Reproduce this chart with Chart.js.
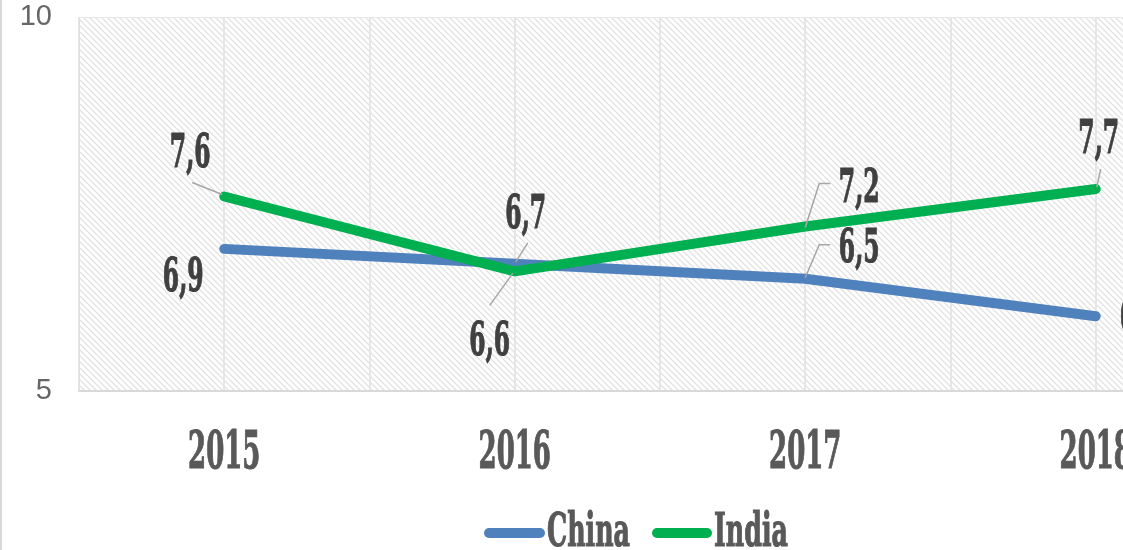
<!DOCTYPE html>
<html>
<head>
<meta charset="utf-8">
<script src="https://cdn.jsdelivr.net/npm/chart.js@4.4.1/dist/chart.umd.min.js"></script>
<style>
  html, body { margin: 0; padding: 0; background: #fff; overflow: hidden; }
  canvas { display: block; }
</style>
</head>
<body>
<canvas id="myChart" width="1260" height="550"></canvas>
<script>
// данные графика
const years = ['2015', '2016', '2017', '2018'];
const seriesNames = ['China', 'India'];
const chinaValues = [6.9, 6.7, 6.5, 6.0];
const indiaValues = [7.6, 6.6, 7.2, 7.7];
const yTicks = [5, 10];

const colors = ['#4f81bd', '#00b050'];

// смещения подписей относительно точки: [dx, dy до базовой линии, выравнивание]
const labelPos = [
  [[-41, 42, 'center'], [11, -36, 'center'], [54, -17, 'center'], [24, 16, 'left']],
  [[-34, -30, 'center'], [-25, 84, 'center'], [54, -24, 'center'], [3, -36, 'center']]
];
// выноски (линии-указатели) в координатах относительно точки
const leaders = [
  [null, [[13, -21], [1, -2]], [[25, -34], [14, -34], [0, -1]], null],
  [[[-32, -14], [-2, -2]], [[-25, 34], [-2, 2]], [[25, -43], [14, -43], [0, 1]], [[5, -20], [1, -2]]]
];

function fmt(v) { return v.toFixed(1).replace('.', ','); }

function condensedText(ctx, text, x, y, size, color, align, sx) {
  ctx.save();
  ctx.translate(x, y);
  ctx.scale(sx || 0.5, 1);
  ctx.font = 'bold ' + size + 'px "DejaVu Serif"';
  ctx.textAlign = align || 'center';
  ctx.textBaseline = 'alphabetic';
  ctx.fillStyle = color;
  ctx.strokeStyle = color;
  ctx.lineWidth = 1.2;
  ctx.fillText(text, 0, 0);
  ctx.strokeText(text, 0, 0);
  ctx.restore();
}

function makeHatch() {
  let c = document.createElement('canvas');
  c.width = 6; c.height = 6;
  let g = c.getContext('2d');
  g.fillStyle = '#ffffff';
  g.fillRect(0, 0, 6, 6);
  g.strokeStyle = '#e2e2e2';
  g.lineWidth = 1.3;
  g.beginPath();
  g.moveTo(-1, -1); g.lineTo(7, 7);
  g.moveTo(-4, 2); g.lineTo(4, 10);
  g.moveTo(2, -4); g.lineTo(10, 4);
  g.stroke();
  return c;
}

const hatchPlugin = {
  id: 'hatch',
  beforeDraw(chart) {
    const ctx = chart.ctx, a = chart.chartArea;
    ctx.save();
    ctx.fillStyle = ctx.createPattern(makeHatch(), 'repeat');
    ctx.fillRect(a.left, a.top, a.right - a.left, a.bottom - a.top);
    // рамка всей диаграммы слева
    ctx.strokeStyle = '#d9d9d9';
    ctx.lineWidth = 2;
    ctx.beginPath();
    ctx.moveTo(1, 0); ctx.lineTo(1, chart.height);
    ctx.stroke();
    ctx.restore();
  }
};

const textPlugin = {
  id: 'texts',
  afterDraw(chart) {
    const ctx = chart.ctx;
    const xs = chart.scales.x;
    // подписи годов
    years.forEach((y, i) => {
      condensedText(ctx, y, xs.getPixelForValue(i), 468, 52, '#595959', 'center');
    });
    // подписи данных и выноски
    chart.data.datasets.forEach((ds, si) => {
      const meta = chart.getDatasetMeta(si);
      meta.data.forEach((pt, i) => {
        const lines = leaders[si][i];
        if (lines) {
          ctx.save();
          ctx.strokeStyle = '#a6a6a6';
          ctx.lineWidth = 1.5;
          ctx.beginPath();
          lines.forEach((p, k) => {
            if (k == 0) ctx.moveTo(pt.x + p[0], pt.y + p[1]);
            else ctx.lineTo(pt.x + p[0], pt.y + p[1]);
          });
          ctx.stroke();
          ctx.restore();
        }
        const lp = labelPos[si][i];
        condensedText(ctx, fmt(ds.data[i]), pt.x + lp[0], pt.y + lp[1], 47, '#404040', lp[2]);
      });
    });
    // легенда
    const legendX = [[489, 540, 547], [657, 707, 714]];
    seriesNames.forEach((name, i) => {
      ctx.save();
      ctx.strokeStyle = colors[i];
      ctx.lineWidth = 10;
      ctx.lineCap = 'round';
      ctx.beginPath();
      ctx.moveTo(legendX[i][0], 533);
      ctx.lineTo(legendX[i][1], 533);
      ctx.stroke();
      ctx.restore();
      condensedText(ctx, name, legendX[i][2], 546, 46, '#595959', 'left', 0.55);
    });
  }
};

let ctx = document.getElementById('myChart');
let myChart = new Chart(ctx, {
  type: 'line',
  data: {
    labels: years,
    datasets: [{
      label: seriesNames[0],
      data: chinaValues,
      borderColor: colors[0],
      borderWidth: 10,
      borderCapStyle: 'round',
      borderJoinStyle: 'round',
      pointRadius: 0,
      fill: false,
      tension: 0,
      order: 1
    }, {
      label: seriesNames[1],
      data: indiaValues,
      borderColor: colors[1],
      borderWidth: 10,
      borderCapStyle: 'round',
      borderJoinStyle: 'round',
      pointRadius: 0,
      fill: false,
      tension: 0,
      order: 0
    }]
  },
  options: {
    responsive: false,
    animation: false,
    layout: { padding: { top: 17, right: 19, left: 0, bottom: 0 } },
    plugins: { legend: { display: false }, tooltip: { enabled: false } },
    scales: {
      x: {
        type: 'category',
        offset: true,
        grid: { offset: true, color: '#e6e6e6', lineWidth: 2, drawTicks: false },
        border: { display: true, color: '#d9d9d9', width: 2 },
        ticks: { display: false },
        afterFit: s => { s.height = 159; s.paddingLeft = 0; s.paddingRight = 0; }
      },
      x2: {
        type: 'category',
        axis: 'x',
        position: 'bottom',
        offset: true,
        grid: { offset: false, color: '#e6e6e6', lineWidth: 2, drawTicks: false },
        border: { display: false },
        ticks: { display: false },
        afterFit: s => { s.height = 0; s.paddingLeft = 0; s.paddingRight = 0; }
      },
      y: {
        min: 5,
        max: 10,
        afterBuildTicks: s => { s.ticks = yTicks.map(v => ({ value: v })); },
        ticks: {
          padding: 27,
          color: '#666666',
          font: { family: '"Liberation Sans", Arial', size: 29 }
        },
        grid: { color: '#e6e6e6', lineWidth: 1, drawTicks: false },
        border: { display: true, color: '#e0e0e0', width: 1 },
        afterFit: s => { s.width = 79; s.paddingTop = 0; s.paddingBottom = 0; }
      }
    }
  },
  plugins: [hatchPlugin, textPlugin]
});
</script>
</body>
</html>
